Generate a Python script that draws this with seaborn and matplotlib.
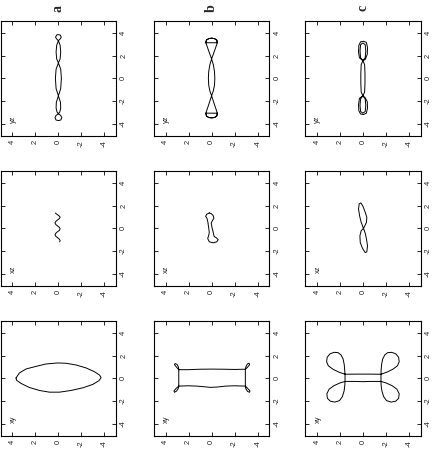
import numpy as np
import pandas as pd
import seaborn as sns
import matplotlib.pyplot as plt

sns.set_style("ticks")
plt.rcParams['font.family'] = ['Liberation Sans', 'DejaVu Sans']
plt.rcParams['axes.unicode_minus'] = False

# figure is shown turned on its side: horizontal axis = second coordinate (4 ... -4),
# vertical axis = first coordinate (-4 ... 4)
tick_values = [4, 2, 0, -2, -4]
tick_labels = ['4', '2', '0', '-2', '-4']
col_titles = ['a', 'b', 'c']
row_names = ['yz', 'xz', 'xy']

# --- column a ---
a_xy_y = [3.68, 3.39, 2.81, 1.94, 1.07, 0.06, -0.67, -1.54, -2.41, -3.13, -3.57, -3.71,
          -3.51, -2.99, -2.12, -1.10, -0.09, 0.78, 1.65, 2.52, 3.25, 3.62, 3.68]
a_xy_x = [0.03, 0.47, 0.82, 1.05, 1.26, 1.35, 1.32, 1.17, 0.91, 0.58, 0.29, 0.06,
          -0.21, -0.53, -0.83, -1.06, -1.21, -1.21, -1.06, -0.80, -0.44, -0.18, 0.03]

a_xz_z = [0.26, 0.07, -0.09, -0.15, -0.08, 0.08, 0.23, 0.30, 0.23, 0.07, -0.09, -0.15,
          -0.08, 0.08, 0.23, 0.30, 0.23, 0.07, -0.09, -0.15, -0.11]
a_xz_x = [1.34, 1.19, 1.06, 0.98, 0.86, 0.73, 0.60, 0.47, 0.34, 0.21, 0.08, -0.05,
          -0.18, -0.30, -0.43, -0.56, -0.69, -0.82, -0.95, -1.08, -1.18]

a_yz_z = [0, 0.15, 0.25, 0.15, 0, -0.15, -0.25, -0.15, 0, 0.15, 0.2, 0.15, 0,
          -0.2, -0.26, -0.2, 0, 0.18, 0.2, 0.12, 0, -0.2, -0.3, -0.2, 0, 0.2, 0.3,
          0.2, 0, -0.12, -0.2, -0.18, 0, 0.2, 0.26, 0.2, 0, -0.15, -0.2, -0.15, 0]
a_yz_y = [3.3, 3.45, 3.6, 3.8, 3.83, 3.8, 3.6, 3.45, 3.3, 2.9, 2.3, 1.7, 1.35,
          0.8, 0.0, -0.9, -1.53, -2.1, -2.6, -2.95, -3.1, -3.25, -3.45, -3.65, -3.7, -3.65, -3.45,
          -3.25, -3.1, -2.95, -2.6, -2.1, -1.53, -0.9, 0.0, 0.8, 1.35, 1.7, 2.3, 2.9, 3.3]

# --- column b ---
b_xy_y = [2.85, 2.0, 1.0, 0.0, -1.0, -2.0, -2.93, -3.1, -3.3, -3.25, -3.1, -2.97, -2.93,
          -2.93, -3.1, -3.33, -3.3, -3.12, -2.97, -2.93, -2.0, -1.2, -0.5, 0.1, 0.6, 1.3,
          2.0, 2.85, 3.05, 3.27, 3.22, 3.05, 2.9, 2.85, 2.85, 3.02, 3.22, 3.17, 3.0, 2.88, 2.85]
b_xy_x = [0.76, 0.76, 0.80, 0.81, 0.80, 0.78, 0.80, 0.95, 1.2, 1.33, 1.25, 1.0, 0.80,
          -0.68, -0.85, -1.1, -1.22, -1.15, -0.9, -0.68, -0.65, -0.68, -0.76, -0.79, -0.74, -0.68,
          -0.65, -0.68, -0.85, -1.1, -1.22, -1.12, -0.9, -0.68, 0.76, 0.95, 1.2, 1.3, 1.22, 1.0, 0.76]

b_xz_z = [0.20, 0.43, 0.52, 0.40, 0.32, 0.26, 0.20, 0.26, 0.34, 0.20, -0.14, -0.45,
          -0.57, -0.42, -0.22, -0.14, -0.03, 0.03, -0.08, -0.20, -0.14, 0.03, 0.20]
b_xz_x = [1.35, 1.23, 1.05, 0.88, 0.53, 0.09, -0.36, -0.65, -0.88, -1.18, -1.27, -1.18,
          -1.0, -0.83, -0.71, -0.36, 0.09, 0.47, 0.70, 0.88, 1.11, 1.29, 1.35]

b_yz_z = [0.5, 0.25, 0, -0.15, -0.25, -0.28, -0.25, -0.15, 0, 0.25, 0.5,
          0.45, 0.25, 0, -0.25, -0.45, -0.5, 0.5, 0.45, 0.25, 0, -0.25, -0.45, -0.5,
          -0.25, 0, 0.15, 0.25, 0.28, 0.25, 0.15, 0, -0.25, -0.5,
          -0.45, -0.25, 0, 0.25, 0.45, 0.5, -0.5, -0.45, -0.25, 0, 0.25, 0.45, 0.5]
b_yz_y = [3.12, 2.4, 1.7, 1.2, 0.6, 0.0, -0.6, -1.1, -1.53, -2.3, -3.05,
          -3.3, -3.43, -3.46, -3.43, -3.3, -3.05, -3.05, -3.3, -3.43, -3.46, -3.43, -3.3, -3.05,
          -2.3, -1.53, -1.1, -0.6, 0.0, 0.6, 1.2, 1.7, 2.4, 3.12,
          3.35, 3.48, 3.52, 3.48, 3.35, 3.12, 3.12, 3.35, 3.48, 3.52, 3.48, 3.35, 3.12]

# --- column c ---
c_xy_y = [1.55, 0.5, -0.5, -1.57,
          -1.58, -1.62, -1.72, -1.9, -2.15, -2.5, -2.85, -3.1, -3.15, -3.0, -2.6, -2.1, -1.57,
          -1.57,
          -2.0, -2.55, -2.95, -3.15, -3.1, -2.85, -2.45, -2.05, -1.8, -1.65, -1.58, -1.57,
          -0.6, 0.0, 0.6, 1.55,
          1.57, 1.63, 1.78, 2.03, 2.43, 2.83, 3.08, 3.13, 2.93, 2.53, 1.98, 1.55,
          1.55,
          2.1, 2.6, 3.0, 3.15, 3.1, 2.85, 2.5, 2.15, 1.9, 1.72, 1.62, 1.58, 1.55]
c_xy_x = [0.36, 0.37, 0.37, 0.36,
          0.7, 1.2, 1.7, 2.05, 2.25, 2.28, 2.15, 1.85, 1.45, 1.1, 0.8, 0.55, 0.36,
          -0.27,
          -0.4, -0.65, -0.95, -1.35, -1.75, -2.0, -2.08, -1.95, -1.6, -1.1, -0.6, -0.27,
          -0.27, -0.29, -0.27, -0.27,
          -0.6, -1.1, -1.6, -1.95, -2.08, -2.0, -1.75, -1.35, -0.95, -0.65, -0.4, -0.27,
          0.36,
          0.55, 0.8, 1.1, 1.45, 1.85, 2.15, 2.28, 2.25, 2.05, 1.7, 1.2, 0.7, 0.36]

c_xz_z = [-0.05, 0.15, 0.29, 0.38, 0.32, 0.18, 0.0, -0.2, -0.34, -0.31, -0.14,
          -0.05, 0.15, 0.26, 0.23, 0.03, -0.2, -0.34, -0.4, -0.31, -0.2, -0.05]
c_xz_x = [0.0, 0.53, 1.11, 1.70, 2.14, 2.23, 1.94, 1.41, 0.97, 0.53, 0.17,
          0.0, -0.21, -0.65, -1.24, -1.76, -2.12, -2.06, -1.53, -0.94, -0.41, 0.0]

c_yz_z = [0, 0.3, 0.38, 0.35, 0.2, -0.05, -0.3, -0.4, -0.38, -0.2, 0,
          0.2, 0.25, 0.2, 0, -0.2, -0.25, -0.2, 0,
          -0.15, -0.18, -0.18, -0.15, 0,
          0.3, 0.38, 0.35, 0.2, -0.05, -0.3, -0.4, -0.38, -0.2, 0,
          0.2, 0.25, 0.2, 0, -0.2, -0.25, -0.2, 0,
          0.15, 0.18, 0.18, 0.15, 0]
c_yz_y = [1.55, 1.8, 2.3, 2.9, 3.2, 3.25, 3.15, 2.7, 2.1, 1.65, 1.55,
          1.8, 2.4, 2.95, 3.1, 2.95, 2.4, 1.8, 1.55,
          1.2, 0.4, -0.4, -1.2, -1.53,
          -1.75, -2.3, -2.85, -3.12, -3.17, -3.05, -2.6, -2.05, -1.7, -1.53,
          -1.8, -2.35, -2.9, -3.05, -2.9, -2.35, -1.8, -1.53,
          -1.2, -0.4, 0.4, 1.2, 1.55]

panels = {
    ('yz', 'a'): (a_yz_z, a_yz_y), ('xz', 'a'): (a_xz_z, a_xz_x), ('xy', 'a'): (a_xy_y, a_xy_x),
    ('yz', 'b'): (b_yz_z, b_yz_y), ('xz', 'b'): (b_xz_z, b_xz_x), ('xy', 'b'): (b_xy_y, b_xy_x),
    ('yz', 'c'): (c_yz_z, c_yz_y), ('xz', 'c'): (c_xz_z, c_xz_x), ('xy', 'c'): (c_xy_y, c_xy_x),
}

W, H = 436, 450
left_px = [0.8, 154, 305.3]
top_px = [20.7, 170.7, 320.7]
aw, ah = 115.2, 115.3

fig = plt.figure(figsize=(W / 100, H / 100), dpi=100)

for i, rname in enumerate(row_names):
    for j, cname in enumerate(col_titles):
        ax = fig.add_axes([left_px[j] / W, 1 - (top_px[i] + ah) / H, aw / W, ah / H])
        hx, vy = panels[(rname, cname)]
        sns.lineplot(x=hx, y=vy, sort=False, estimator=None, color='black',
                     lw=0.7, ax=ax)
        ax.set_xlim(5, -5)
        ax.set_ylim(-5.05, 5.05)
        ax.set_xlabel('')
        ax.set_ylabel('')
        ax.set_xticks(tick_values)
        ax.set_yticks(tick_values)
        ax.set_xticklabels(tick_labels, rotation=90, fontsize=5.4, va='top', ha='center')
        ax.set_yticklabels(tick_labels, rotation=90, fontsize=5.4, va='center', ha='left')
        ax.yaxis.tick_right()
        ax.tick_params(direction='in', length=3, width=0.7, pad=3,
                       top=True, bottom=True, left=True, right=True,
                       labelleft=False, labelright=True, labelcolor='#222222')
        for s in ax.spines.values():
            s.set_linewidth(0.8)
            s.set_color('black')
        ax.text(3.9, -3.6, rname, rotation=90, ha='center', va='center', fontsize=5.4,
                color='#222222')

for j, cname in enumerate(col_titles):
    fig.text((left_px[j] + aw / 2) / W, 1 - 8 / H, cname, rotation=90, ha='center',
             va='center', fontsize=10, fontweight='bold', family='Liberation Serif')

fig.savefig('out.png', dpi=100)
